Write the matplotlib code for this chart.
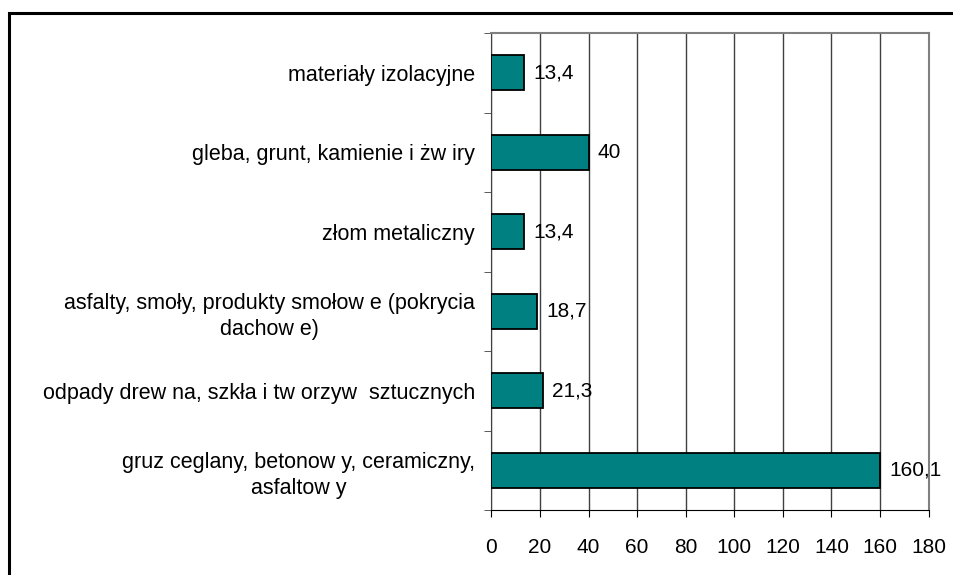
import matplotlib
matplotlib.use("Agg")
import matplotlib.pyplot as plt
from matplotlib.patches import Rectangle

plt.rcParams['font.family'] = ['Liberation Sans', 'DejaVu Sans']

# dane (od dołu do góry)
kategorie = ["gruz ceglany, betonow y, ceramiczny,\nasfaltow y",
             "odpady drew na, szkła i tw orzyw  sztucznych",
             "asfalty, smoły, produkty smołow e (pokrycia\ndachow e)",
             "złom metaliczny",
             "gleba, grunt, kamienie i żw iry",
             "materiały izolacyjne"]
wartosci = [160.1, 21.3, 18.7, 13.4, 40, 13.4]
etykiety = ["160,1", "21,3", "18,7", "13,4", "40", "13,4"]
xticki = [0, 20, 40, 60, 80, 100, 120, 140, 160, 180]

W, H = 954, 575
fig = plt.figure(figsize=(W/100, H/100), dpi=100)
ax = fig.add_axes([491.5/W, 1-510/H, (928.5-491.5)/W, (510-33)/H])

# ramka wykresu
fig.patches.append(Rectangle((9/W, -0.1), 1.2, 1-13/H+0.1, transform=fig.transFigure,
                             fill=False, edgecolor='black', linewidth=2.2))

ypos = range(len(kategorie))
ax.barh(ypos, wartosci, height=0.44, color='#008080', edgecolor='black', linewidth=1.3, zorder=3)
for y, v, t in zip(ypos, wartosci, etykiety):
    ax.text(v + 3.8, y, t, va='center', ha='left', fontsize=15, zorder=4)

ax.set_xlim(0, 180)
ax.set_ylim(-0.5, len(kategorie)-0.5)
ax.set_xticks(xticki)
ax.set_xticklabels([str(x) for x in xticki], fontsize=15)
ax.set_yticks(list(ypos))
ax.set_yticklabels(kategorie, fontsize=15.5, multialignment='center', linespacing=1.3)
ax.set_yticks([i - 0.5 for i in range(len(kategorie)+1)], minor=True)
ax.tick_params(axis='y', which='major', length=0, pad=12)
ax.tick_params(axis='y', which='minor', length=5, direction='out', color='#404040')
ax.tick_params(axis='x', length=5, direction='out', pad=15)

ax.grid(axis='x', color='#404040', linewidth=1, zorder=0)
for s in ['top', 'right']:
    ax.spines[s].set_color('#808080')
    ax.spines[s].set_linewidth(1.5)
ax.spines['left'].set_color('#404040')
ax.spines['bottom'].set_color('black')

fig.savefig('out.png', dpi=100)
